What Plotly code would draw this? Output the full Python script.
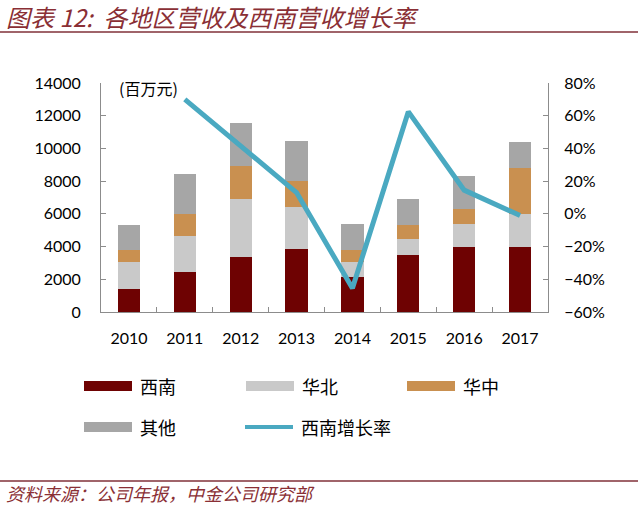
import plotly.graph_objects as go

years = ["2010", "2011", "2012", "2013", "2014", "2015", "2016", "2017"]
xinan = [1400, 2450, 3380, 3850, 2120, 3460, 3980, 3980]
huabei = [1630, 2220, 3530, 2550, 920, 1020, 1380, 1990]
huazhong = [760, 1330, 1990, 1590, 780, 840, 940, 2810]
qita = [1550, 2420, 2650, 2450, 1530, 1570, 1990, 1620]
growth = [None, 0.70, 0.41, 0.13, -0.455, 0.625, 0.145, -0.01]

C_XN = "#6e0202"
C_HB = "#c9c9c9"
C_HZ = "#c99050"
C_QT = "#a6a6a6"
C_LN = "#4aa9c1"
AX = "#8c8c8c"
RED = "#8a2f35"
FONT = "Noto Sans CJK SC"
NUMF = "Lato"

fig = go.Figure()
for name, vals, col in [("西南", xinan, C_XN), ("华北", huabei, C_HB),
                        ("华中", huazhong, C_HZ), ("其他", qita, C_QT)]:
    fig.add_trace(go.Bar(x=years, y=vals, name=name, marker_color=col,
                         marker_line_width=0, width=0.4, showlegend=False))
fig.add_trace(go.Scatter(x=years, y=growth, name="西南增长率", mode="lines",
                         line=dict(color=C_LN, width=5), yaxis="y2",
                         showlegend=False, connectgaps=False))

fig.update_layout(
    barmode="stack",
    width=640, height=509,
    margin=dict(l=101, r=92, t=83, b=197),
    paper_bgcolor="white", plot_bgcolor="white",
    xaxis=dict(showgrid=False, showline=True, linecolor=AX, linewidth=1,
               ticks="inside", tickson="boundaries", ticklen=5, tickcolor=AX,
               ticklabelstandoff=12,
               tickfont=dict(family=NUMF, size=16, color="black")),
    yaxis=dict(range=[0, 14000], dtick=2000, tickformat="d", showgrid=False,
               showline=True, linecolor=AX, linewidth=1, ticks="inside",
               ticklen=5, tickcolor=AX, ticklabelstandoff=16,
               tickfont=dict(family=NUMF, size=16, color="black"), zeroline=False),
    yaxis2=dict(range=[-0.6, 0.8], dtick=0.2, tickformat=".0%", overlaying="y",
                side="right", showgrid=False, showline=True, linecolor=AX,
                linewidth=1, ticks="inside", ticklen=5, tickcolor=AX,
                ticklabelstandoff=12,
                tickfont=dict(family=NUMF, size=16, color="black"),
                zeroline=False),
)

def px_x(x):
    return (x - 101) / 447

def px_y(y):
    return (312 - y) / 229

shapes = [
    dict(type="line", xref="paper", yref="paper", x0=px_x(0), x1=px_x(638),
         y0=px_y(32), y1=px_y(32), line=dict(color="#a0646a", width=2)),
    dict(type="line", xref="paper", yref="paper", x0=px_x(0), x1=px_x(638),
         y0=px_y(481), y1=px_y(481), line=dict(color="#a0646a", width=2)),
]

legend_items = [
    ("西南", C_XN, 84, 386, "bar"),
    ("华北", C_HB, 246, 386, "bar"),
    ("华中", C_HZ, 407, 386, "bar"),
    ("其他", C_QT, 84, 427, "bar"),
    ("西南增长率", C_LN, 245, 427, "line"),
]
annotations = []
for label, col, x0, yc, kind in legend_items:
    if kind == "bar":
        shapes.append(dict(type="rect", xref="paper", yref="paper",
                           x0=px_x(x0), x1=px_x(x0 + 48),
                           y0=px_y(yc + 5), y1=px_y(yc - 5),
                           fillcolor=col, line=dict(width=0)))
    else:
        shapes.append(dict(type="line", xref="paper", yref="paper",
                           x0=px_x(x0), x1=px_x(x0 + 48),
                           y0=px_y(yc), y1=px_y(yc),
                           line=dict(color=col, width=4)))
    annotations.append(dict(text=label, xref="paper", yref="paper",
                            x=px_x(x0 + 54), y=px_y(yc), xanchor="left",
                            yanchor="middle", showarrow=False,
                            font=dict(family=FONT, size=18, color="black")))

annotations += [
    dict(text="图表 12:  各地区营收及西南营收增长率", xref="paper", yref="paper",
         x=px_x(4), y=px_y(16), xanchor="left", yanchor="middle", showarrow=False,
         font=dict(family=FONT, size=24, color=RED, style="italic")),
    dict(text="资料来源：公司年报，中金公司研究部", xref="paper", yref="paper",
         x=px_x(4), y=px_y(493), xanchor="left", yanchor="middle", showarrow=False,
         font=dict(family=FONT, size=18, color=RED, style="italic")),
    dict(text="(百万元)", xref="paper", yref="paper",
         x=px_x(117), y=px_y(88), xanchor="left", yanchor="middle", showarrow=False,
         font=dict(family=FONT, size=16, color="black")),
]
fig.update_layout(shapes=shapes, annotations=annotations)

fig.write_html("out.html", config={"displayModeBar": False},
               post_script="document.body.style.margin='0';document.body.style.overflow='hidden';")
